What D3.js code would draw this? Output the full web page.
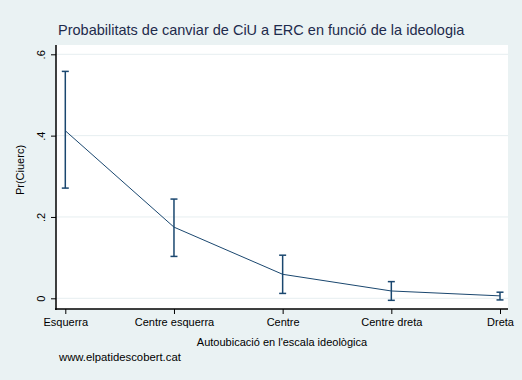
<!DOCTYPE html>
<html>
<head>
<meta charset="utf-8">
<script src="https://cdn.jsdelivr.net/npm/d3@7"></script>
<style>
  body { margin: 0; background: #eaf2f3; }
  svg { display: block; font-family: "Liberation Sans", Arial, sans-serif; }
</style>
</head>
<body>
<svg id="chart"></svg>
<script>
// data
var categories = ["Esquerra", "Centre esquerra", "Centre", "Centre dreta", "Dreta"];
var prob = [0.412, 0.175, 0.059, 0.018, 0.006];
var ciLow = [0.271, 0.103, 0.012, -0.005, -0.004];
var ciHigh = [0.558, 0.244, 0.106, 0.041, 0.015];
var yTicks = [0, 0.2, 0.4, 0.6];

var W = 522, H = 380;
var plot = { left: 56, right: 508, top: 45, bottom: 309 };
var navy = "#1a476f";

var svg = d3.select("#chart")
    .attr("width", W)
    .attr("height", H);

svg.append("rect")
    .attr("width", W).attr("height", H)
    .attr("fill", "#eaf2f3");

svg.append("rect")
    .attr("x", plot.left).attr("y", plot.top)
    .attr("width", plot.right - plot.left)
    .attr("height", plot.bottom - plot.top)
    .attr("fill", "#fff");

var xScale = d3.scaleLinear()
    .domain([1, 5])
    .range([65.3, 500]);
var yScale = d3.scaleLinear()
    .domain([0, 0.6])
    .range([298.3, 54.3]);

// grid
svg.append("g")
    .selectAll("line")
    .data(yTicks)
    .enter().append("line")
    .attr("x1", plot.left).attr("x2", plot.right)
    .attr("y1", d => yScale(d)).attr("y2", d => yScale(d))
    .attr("stroke", "#e6eef0")
    .attr("stroke-width", 1);

// Y Axis
var fmt = d => d === 0 ? "0" : d3.format(".1f")(d).replace(/^0/, "");
var yAxis = svg.append("g")
    .attr("transform", `translate(${plot.left},0)`)
    .call(d3.axisLeft(yScale).tickValues(yTicks).tickSize(5).tickSizeOuter(0).tickFormat(fmt));
yAxis.select(".domain").remove();
yAxis.append("line")
    .attr("y1", plot.top).attr("y2", plot.bottom + 1)
    .attr("stroke", "#000").attr("stroke-width", 1.5);
yAxis.selectAll(".tick line").attr("stroke", "#000");
yAxis.selectAll(".tick text")
    .attr("x", null).attr("dy", null)
    .attr("transform", "translate(-11,0) rotate(-90)")
    .attr("text-anchor", "middle")
    .attr("font-size", 11)
    .attr("fill", "#000");

// X Axis
var xAxis = svg.append("g")
    .attr("transform", `translate(0,${plot.bottom})`)
    .call(d3.axisBottom(xScale).tickValues([1, 2, 3, 4, 5]).tickSize(5)
        .tickFormat((d, i) => categories[i]));
xAxis.select(".domain").remove();
xAxis.append("line")
    .attr("x1", plot.left - 1).attr("x2", plot.right)
    .attr("stroke", "#000").attr("stroke-width", 1.5);
xAxis.selectAll(".tick line").attr("stroke", "#000");
xAxis.selectAll(".tick text")
    .attr("y", 9)
    .attr("font-size", 11)
    .attr("fill", "#000");

// line
var line = d3.line()
    .x((d, i) => xScale(i + 1))
    .y(d => yScale(d));
svg.append("path")
    .attr("d", line(prob))
    .attr("fill", "none")
    .attr("stroke", navy)
    .attr("stroke-width", 1);

// error bars
var bars = svg.append("g")
    .selectAll("g")
    .data(prob.map((p, i) => ({ i: i, lo: ciLow[i], hi: ciHigh[i] })))
    .enter().append("g")
    .attr("stroke", navy)
    .attr("stroke-width", 1.5);
bars.append("line")
    .attr("x1", d => xScale(d.i + 1)).attr("x2", d => xScale(d.i + 1))
    .attr("y1", d => yScale(d.lo)).attr("y2", d => yScale(d.hi));
bars.append("line")
    .attr("x1", d => xScale(d.i + 1) - 3.5).attr("x2", d => xScale(d.i + 1) + 3.5)
    .attr("y1", d => yScale(d.lo)).attr("y2", d => yScale(d.lo));
bars.append("line")
    .attr("x1", d => xScale(d.i + 1) - 3.5).attr("x2", d => xScale(d.i + 1) + 3.5)
    .attr("y1", d => yScale(d.hi)).attr("y2", d => yScale(d.hi));

// Labels
svg.append("text")
    .attr("x", 58).attr("y", 35)
    .attr("font-size", 14.5)
    .attr("fill", "#1e2b4c")
    .text("Probabilitats de canviar de CiU a ERC en funció de la ideologia");

svg.append("text")
    .attr("transform", "translate(24,170) rotate(-90)")
    .attr("text-anchor", "middle")
    .attr("font-size", 11)
    .attr("fill", "#000")
    .text("Pr(Ciuerc)");

svg.append("text")
    .attr("x", 282).attr("y", 346)
    .attr("text-anchor", "middle")
    .attr("font-size", 11)
    .attr("fill", "#000")
    .text("Autoubicació en l'escala ideològica");

svg.append("text")
    .attr("x", 59).attr("y", 361)
    .attr("font-size", 11.3)
    .attr("fill", "#000")
    .text("www.elpatidescobert.cat");
</script>
</body>
</html>
